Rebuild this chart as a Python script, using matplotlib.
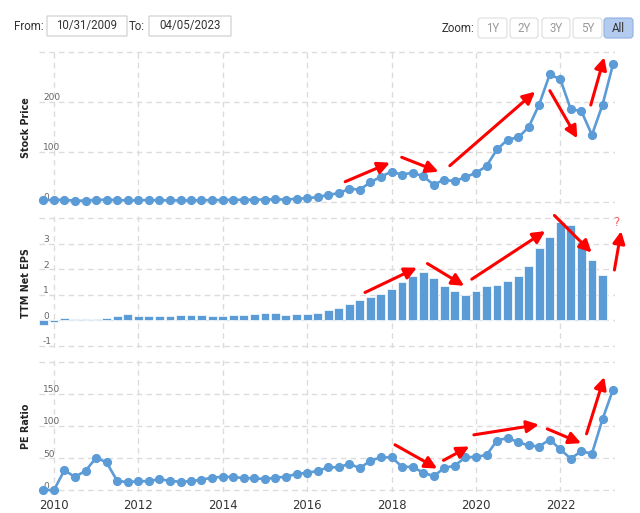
import matplotlib
matplotlib.use('Agg')
import matplotlib.pyplot as plt
import matplotlib.transforms as mtransforms
from matplotlib.patches import FancyBboxPatch
import numpy as np
import pandas as pd

# ---------------- data ----------------
quarters = pd.date_range('2009-09-30', '2023-03-31', freq='QE')

stock_price = [3.5, 4.5, 4.3, 2.6, 2.8, 4.2, 4.6, 3.9, 3.1, 3.4, 3.8, 3.4, 3.3,
               3.1, 3.2, 3.5, 3.9, 4.0, 4.5, 4.6, 4.6, 5.0, 5.2, 5.0, 6.2, 8.0,
               9.5, 14.5, 17.5, 26.7, 24.7, 39.3, 50.7, 60.7, 54.7, 58.7, 51.3,
               34.7, 44.7, 41.3, 50, 58, 72, 105.3, 124.7, 129.3, 149.3, 194.7,
               255.3, 245.3, 185.3, 182, 134, 194.7, 275.3]

ttm_eps = [-0.17, -0.06, 0.10, 0.06, 0.06, 0.06, 0.08, 0.19, 0.23, 0.19, 0.17,
           0.17, 0.17, 0.21, 0.21, 0.21, 0.17, 0.17, 0.21, 0.21, 0.25, 0.27,
           0.27, 0.22, 0.23, 0.23, 0.28, 0.39, 0.49, 0.65, 0.78, 0.91, 1.03,
           1.22, 1.51, 1.73, 1.88, 1.66, 1.35, 1.13, 1.01, 1.13, 1.35, 1.38,
           1.55, 1.73, 2.14, 2.82, 3.25, 3.86, 3.74, 3.06, 2.36, 1.77, np.nan]

pe_ratio = [0, 0, 31, 20.6, 30, 50.5, 43.3, 14.4, 12.4, 13.9, 13.9, 17, 14.4,
            12.9, 13.9, 16, 19.6, 20.6, 20.6, 18.6, 18.6, 17, 19.6, 20.6, 25.3,
            26.8, 29.9, 35.5, 35.6, 41.2, 34, 45.9, 51, 51, 36.6, 36, 27.3, 21.6,
            34.5, 38.1, 51, 52, 54.6, 77.3, 81.4, 74.7, 69.6, 68, 78.9, 63.4, 49,
            60.8, 56.7, 110.8, 156.7]

year_ticks = [2010, 2012, 2014, 2016, 2018, 2020, 2022]
price_ticks = [0, 100, 200, 300]
eps_ticks = [-1, 0, 1, 2, 3, 4]
pe_ticks = [0, 50, 100, 150, 200]

# red trend arrows: (x_start, y_start, x_end, y_end) in data units
price_arrows = [(2016.90, 40.6, 2017.96, 78.6), (2018.24, 89.4, 2019.11, 60.6),
                (2019.38, 72.6, 2021.40, 220.6), (2021.75, 222.6, 2022.40, 127.4),
                (2022.72, 194.0, 2023.04, 289.4)]
eps_arrows = [(2017.37, 1.09, 2018.60, 2.06), (2018.85, 2.22, 2019.72, 1.35),
              (2019.90, 1.61, 2021.64, 3.49), (2021.86, 4.10, 2022.74, 2.65),
              (2023.28, 1.97, 2023.44, 3.49)]
pe_arrows = [(2018.08, 70.7, 2019.08, 33.6), (2019.23, 46.4, 2019.84, 68.1),
             (2019.95, 86.2, 2021.49, 102.2), (2021.69, 95.5, 2022.49, 73.2),
             (2022.62, 87.8, 2023.04, 176.5)]

# ---------------- figure ----------------
W, H = 640, 513
fig = plt.figure(figsize=(W / 100, H / 100), dpi=100)
fig.patch.set_facecolor('white')

x = quarters.year + quarters.dayofyear / 365.25
BLUE = '#5b9bd6'
GRID = '#dcdcdc'
L, R = 39, 615


def make_ax(top, bottom):
    ax = fig.add_axes([L / W, 1 - bottom / H, (R - L) / W, (bottom - top) / H])
    for s in ax.spines.values():
        s.set_visible(False)
    ax.set_xlim(2009.645, 2023.294)
    ax.set_xticks(year_ticks)
    ax.grid(True, linestyle=(0, (4, 3)), color=GRID, linewidth=1)
    ax.set_axisbelow(True)
    ax.tick_params(length=0, labelleft=False, labelbottom=False)
    ax.set_facecolor('none')
    return ax


def ylabels(ax, ticks, fmt):
    tr = mtransforms.offset_copy(ax.get_yaxis_transform(), fig=fig, x=0, y=4, units='dots')
    for t in ticks[:-1]:
        ax.text(0.007, t, fmt(t), transform=tr, ha='left', va='center',
                fontsize=6.5, color='#666666', zorder=1)


def arrows(ax, lst):
    for x0, y0, x1, y1 in lst:
        ax.annotate('', xy=(x1, y1), xytext=(x0, y0), annotation_clip=False,
                    arrowprops=dict(arrowstyle='-|>,head_length=0.6,head_width=0.3',
                                    color='#ff0000', lw=2.2, shrinkA=0, shrinkB=0,
                                    mutation_scale=12), zorder=5)


# Stock price
ax1 = make_ax(50, 204)
ax1.set_ylim(-4, 304)
ax1.set_yticks(price_ticks)
ylabels(ax1, price_ticks, lambda v: f'{v}')
ax1.plot(x, stock_price, color=BLUE, lw=1.9, marker='o', markersize=5.6,
         clip_on=False, zorder=3)
arrows(ax1, price_arrows)

# TTM EPS
ax2 = make_ax(216, 348)
ax2.set_ylim(-1.08, 4.08)
ax2.set_yticks(eps_ticks)
ylabels(ax2, eps_ticks, lambda v: f'{v}')
ax2.bar(x, ttm_eps, width=0.21, color=BLUE, edgecolor='white', linewidth=0.5, zorder=3)
arrows(ax2, eps_arrows)
ax2.text(2023.318, 3.84, '?', color='#ff5a5a', fontsize=8.5, ha='center', va='center')

# PE ratio
ax3 = make_ax(360, 492)
ax3.set_ylim(-3, 203)
ax3.set_yticks(pe_ticks)
ylabels(ax3, pe_ticks, lambda v: f'{v}')
ax3.plot(x, pe_ratio, color=BLUE, lw=1.9, marker='o', markersize=5.6,
         clip_on=False, zorder=3)
arrows(ax3, pe_arrows)
ax3.tick_params(labelbottom=True, pad=5, labelsize=8.4, labelcolor='#333333')
ax3.set_xticklabels([str(y) for y in year_ticks])

# axis titles
for txt, yc in [('Stock Price', 128), ('TTM Net EPS', 283), ('PE Ratio', 426)]:
    fig.text(26 / W, 1 - yc / H, txt, rotation=90, ha='center', va='center',
             fontsize=6.9, fontweight='bold', color='#222222')

# ---------------- header widgets ----------------
pxT = mtransforms.Affine2D().scale(1 / 100) + fig.dpi_scale_trans


def box(x0, y0, x1, y1, fc='white', ec='#cccccc', r=0.5):
    p = FancyBboxPatch((x0, H - y1), x1 - x0, y1 - y0,
                       boxstyle=f'round,pad=0,rounding_size={r}',
                       transform=pxT, facecolor=fc, edgecolor=ec, linewidth=0.8)
    fig.add_artist(p)


def ptext(xp, yp, s, ha='left', color='#333333', size=8.3):
    fig.text(xp / W, 1 - yp / H, s, ha=ha, va='center', fontsize=size,
             color=color, family='Roboto')


ptext(14, 26, 'From:')
box(47, 16, 127, 36)
ptext(87, 26, '10/31/2009', ha='center')
ptext(129, 26, 'To:')
box(149, 16, 231, 36)
ptext(190, 26, '04/05/2023', ha='center')

ptext(442, 28, 'Zoom:')
buttons = [(478, 507, '1Y'), (510, 538, '2Y'), (542, 570, '3Y'), (573, 602, '5Y'),
           (604, 633, 'All')]
for x0, x1, lab in buttons:
    if lab == 'All':
        box(x0, 18, x1, 38, fc='#b4cbf0', ec='#8fb0e0', r=3)
        ptext((x0 + x1) / 2, 28, lab, ha='center', color='#333333')
    else:
        box(x0, 18, x1, 38, fc='white', ec='#dddddd', r=3)
        ptext((x0 + x1) / 2, 28, lab, ha='center', color='#9a9a9a')

fig.savefig('out.png', dpi=100)
